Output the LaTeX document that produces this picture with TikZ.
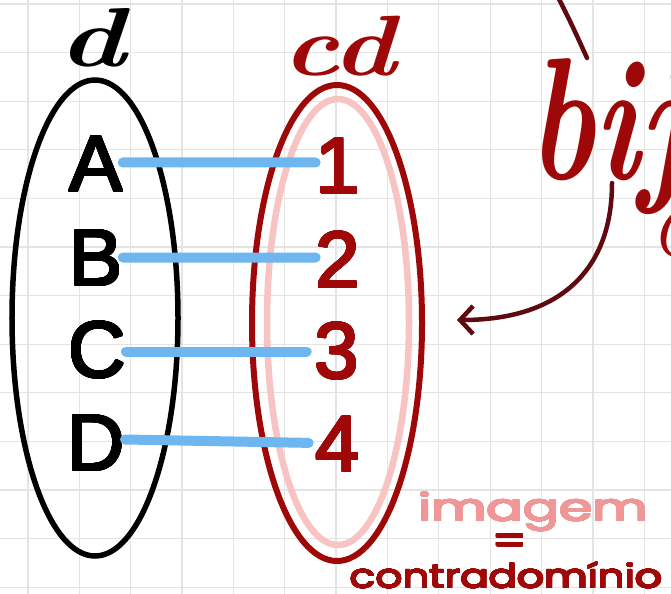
\documentclass[tikz,border=0pt]{standalone}
\usepackage{fontspec}
\usepackage{contour}
\contournumber{32}
\usetikzlibrary{arrows.meta,shapes.geometric}
\newfontfamily\letfont{Liberation Sans}
\newfontfamily\hand{Poppins}
\definecolor{dred}{RGB}{158,8,8}
\definecolor{pinkring}{RGB}{248,195,195}
\definecolor{linkblue}{RGB}{110,182,240}
\definecolor{maroon}{RGB}{95,10,15}
\definecolor{pinktext}{RGB}{240,150,150}
\definecolor{gridgray}{RGB}{228,228,228}
\newcommand{\heavy}[2]{\contourlength{#1}\contour{.}{#2}}
\tikzset{
  gridline/.style={draw=gridgray, line width=1.3bp},
  letter/.style={inner sep=0, font=\letfont\fontsize{80}{80}\selectfont},
  digit/.style={letter, text=dred},
  setring/.style={draw, ellipse, inner sep=0},
  link/.style={draw=linkblue, line width=10bp, line cap=round},
  arrowline/.style={draw=maroon, line width=4.5bp, line cap=round},
}
\begin{document}
\begin{tikzpicture}[x=1bp,y=-1bp]
\useasboundingbox (0,0) rectangle (671,594);
\fill[white] (0,0) rectangle (671,594);
\foreach \k in {0,...,12} {\draw[gridline] ({28+51.35*\k},0) -- ({28+51.35*\k},594);}
\foreach \k in {0,...,12} {\draw[gridline] (0,{4+48.6*\k}) -- (671,{4+48.6*\k});}

% sets
\node[setring, line width=5.5bp, minimum width=166bp, minimum height=476bp] (dom) at (95,318) {};
\node[setring, draw=pinkring, line width=6.5bp, minimum width=142bp, minimum height=446bp] (img) at (338,322) {};
\node[setring, draw=dred, line width=6bp, minimum width=170bp, minimum height=476bp] (cod) at (337,323) {};

% labels of sets
\node[inner sep=0] (dl) at (92,38) {\scalebox{1.35}[1]{\fontsize{84}{84}\selectfont\bfseries\itshape d}};
\node[inner sep=0, text=dred] (cdl) at (339,46) {\scalebox{1.25}[1]{\fontsize{86}{86}\selectfont\bfseries\itshape cd}};

% elements
\node[letter] (A) at (96,164.5) {\heavy{1.1pt}{A}};
\node[letter] (B) at (96,258.5) {\heavy{1.1pt}{B}};
\node[letter] (C) at (97,350.5) {\heavy{1.1pt}{C}};
\node[letter] (D) at (96,443.5) {\heavy{1.1pt}{D}};
\node[digit] (n1) at (338,166.5) {\heavy{1.1pt}{1}};
\node[digit] (n2) at (338,260.5) {\heavy{1.1pt}{2}};
\node[digit] (n3) at (337,351.5) {\heavy{1.1pt}{3}};
\node[digit] (n4) at (338,445) {\heavy{1.1pt}{4}};

% links
\draw[link] ([yshift=2bp]A.east) -- ([yshift=4bp]n1.west);
\draw[link] ([yshift=1bp]B.east) -- ([yshift=3bp]n2.west);
\draw[link, shorten >=8bp] ([yshift=-1bp]C.east) -- (n3.west);
\draw[link, shorten >=7bp] ([yshift=4bp]D.east) -- ([yshift=2bp]n4.west);

% bijective title
\node[anchor=base west, inner sep=0, text=dred] (bij) at (528,180) {\scalebox{0.72}[1]{\fontsize{175}{175}\selectfont\bfseries\itshape bij}};
\node[anchor=base west, inner sep=0, text=dred] (cpart) at (650,256) {\fontsize{72}{72}\selectfont\itshape C};

% curves
\coordinate (topS) at (557,-5);
\coordinate (topE) at (587,58);
\draw[arrowline] (topS) .. controls (572,25) .. (topE);
\coordinate (arrS) at (612,183);
\draw[arrowline, -{Straight Barb[length=13bp,width=28bp]}] (arrS) .. controls (612,270) and (560,320) .. ([xshift=32bp,yshift=3bp]cod.east);

% image = codomain
\node[anchor=base west, inner sep=0, text=pinktext] (imagem) at (418,521) {\scalebox{1.42}[1]{\hand\fontsize{38}{38}\selectfont\heavy{0.6pt}{imagem}}};
\node[inner sep=0, text=dred] (eq) at (510,545) {\scalebox{1.2}[1]{\hand\fontsize{40}{40}\selectfont\heavy{0.7pt}{=}}};
\node[anchor=base west, inner sep=0, text=dred] (contra) at (350,588) {\scalebox{1.28}[1]{\hand\fontsize{33}{33}\selectfont\heavy{0.5pt}{contradomínio}}};
\end{tikzpicture}
\end{document}
